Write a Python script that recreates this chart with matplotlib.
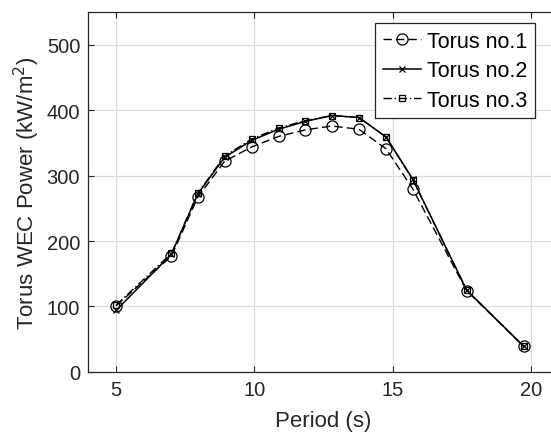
import matplotlib
matplotlib.use('Agg')
import matplotlib.pyplot as plt

plt.rcParams['font.family'] = ['Liberation Sans', 'DejaVu Sans']
plt.rcParams['font.size'] = 14.5

# wave period (s) and power for the three torus cases
period = [5, 7, 7.95, 8.92, 9.9, 10.87, 11.83, 12.8, 13.78, 14.76, 15.72, 17.67, 19.73]
torus1 = [101, 177, 267, 322, 344, 360, 370, 376, 371, 341, 280, 124, 39]
torus2 = [94, 180, 272, 328, 354, 371, 383, 392, 389, 359, 295, 125, 39]
torus3 = [102, 181, 273, 330, 356, 373, 384, 392, 389, 359, 294, 125, 39]

fig = plt.figure(figsize=(5.51, 4.35), dpi=100)
ax = fig.add_axes([0.1606, 0.1432, 0.8534, 0.8262])

ink = '#262626'
ax.plot(period, torus1, color='k', lw=1.0, ls=(0, (6, 3)), marker='o', ms=8,
        mfc='none', mec='k', mew=0.9, label='Torus no.1')
ax.plot(period, torus2, color='k', lw=1.1, ls='-', marker='x', ms=5,
        mec='k', mew=0.9, label='Torus no.2')
ax.plot(period, torus3, color='k', lw=1.0, ls=(0, (6, 2, 1, 2)), marker='s', ms=5,
        mfc='none', mec='k', mew=0.9, label='Torus no.3')

ax.set_xlim(4, 21)
ax.set_ylim(0, 550)
ax.set_xticks([5, 10, 15, 20])
ax.set_yticks([0, 100, 200, 300, 400, 500])
ax.grid(True, color='#dcdcdc', lw=0.9)
ax.set_axisbelow(True)
ax.tick_params(direction='in', top=True, right=True, length=4, width=0.8,
               colors=ink, labelsize=14.5, pad=6)
for s in ax.spines.values():
    s.set_color(ink)
    s.set_linewidth(0.9)

ax.set_xlabel('Period (s)', color=ink, fontsize=16, labelpad=8)
ax.set_ylabel('Torus WEC Power (kW/m$^2$)', color=ink, fontsize=16, labelpad=3)

leg = ax.legend(loc='upper right', bbox_to_anchor=(535 / 551, 1 - 24 / 435),
                bbox_transform=fig.transFigure, borderaxespad=0, fancybox=False,
                framealpha=1, edgecolor=ink, handlelength=1.75, handletextpad=0.3,
                labelspacing=0.4, borderpad=0.35, fontsize=15.5)
leg.get_frame().set_linewidth(0.9)

fig.savefig('out.png', dpi=100)
